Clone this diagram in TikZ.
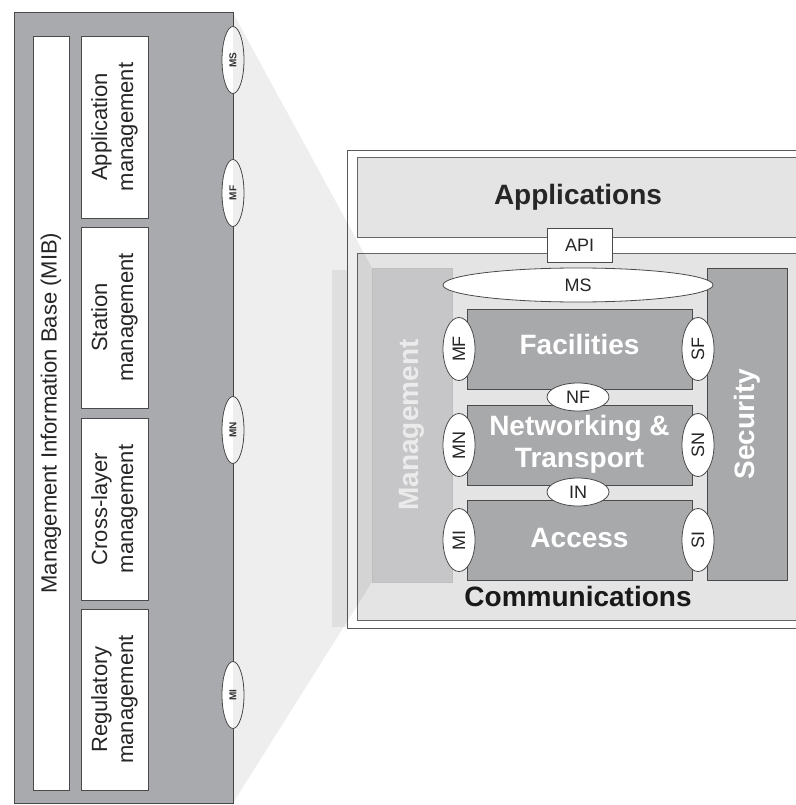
\documentclass[tikz,border=0pt]{standalone}
\usepackage{fontspec}
\setmainfont{Liberation Sans}
\usetikzlibrary{shapes.geometric}
\definecolor{panelgray}{HTML}{A9AAAD}
\definecolor{laygray}{HTML}{A8A9AB}
\definecolor{mgmtgray}{HTML}{C6C6C8}
\definecolor{boxlight}{HTML}{E4E4E4}
\definecolor{edgegray}{HTML}{4A4A4A}
\definecolor{bandgray}{HTML}{EFEFEF}
\begin{document}
\begin{tikzpicture}[x=1pt,y=-1pt,
  rbox/.style={rectangle, inner sep=0pt, outer sep=0pt},
  leftpanel/.style={rbox, draw=edgegray, fill=panelgray, line width=1pt},
  wbox/.style={rbox, draw=edgegray, fill=white, line width=0.8pt},
  lightbox/.style={rbox, draw=black!60, fill=boxlight, line width=0.8pt},
  layerbox/.style={rbox, draw=edgegray, fill=laygray, line width=1pt},
  mgmtbox/.style={rbox, draw=black!25, fill=mgmtgray, line width=0.6pt},
  oval/.style={ellipse, draw=edgegray, fill=white, line width=0.8pt, inner sep=0pt},
  smalltxt/.style={font=\fontsize{10}{11}\selectfont\bfseries, text=black!80},
  midtxt/.style={font=\fontsize{18}{20}\selectfont, text=black!85},
  leftlbl/.style={font=\fontsize{22}{26}\selectfont, text=black!85, align=center, rotate=90},
  bigtxt/.style={font=\fontsize{28}{32}\selectfont\bfseries, align=center},
]
\useasboundingbox (0,0) rectangle (795,805);

% band
\fill[bandgray] (332,270) rectangle (347,627);

% left panel
\node[leftpanel, minimum width=219, minimum height=790] (lp) at (123.5,408) {};
\node[wbox, minimum width=36, minimum height=754] (mib) at (51,413) {};
\node[leftlbl] at (mib.center) {Management Information Base (MIB)};
\node[wbox, minimum width=67, minimum height=182] (appm) at (114.5,127) {};
\node[leftlbl] at (appm.center) {Application\\management};
\node[wbox, minimum width=67, minimum height=181] (stam) at (114.5,317.5) {};
\node[leftlbl] at (stam.center) {Station\\management};
\node[wbox, minimum width=67, minimum height=182] (crm) at (114.5,509) {};
\node[leftlbl] at (crm.center) {Cross-layer\\management};
\node[wbox, minimum width=67, minimum height=181] (regm) at (114.5,699.5) {};
\node[leftlbl] at (regm.center) {Regulatory\\management};

\foreach \nm/\yy/\tx in {lms/60/MS, lmf/193/MF, lmn/430/MN, lmi/695/MI}{
  \node[oval, minimum width=22, minimum height=67] (\nm) at (233,\yy) {};
  \node[smalltxt, rotate=90] at (\nm.center) {\tx};
}

% right panel
\node[rbox, draw=black!65, fill=white, line width=0.8pt, minimum width=463, minimum height=478] (outer) at (578.5,389) {};
\node[lightbox, minimum width=453, minimum height=80] (apps) at (583.5,197) {};
\node[bigtxt, text=black!85] (appst) at (578,197) {Applications};
\node[lightbox, minimum width=453, minimum height=367] (comm) at (583.5,436.5) {};
\node[wbox, minimum width=65, minimum height=34] (api) at (579.5,245) {};
\node[midtxt] at (api.center) {API};

\node[mgmtbox, minimum width=80, minimum height=314] (mgmt) at (412,425) {};
\node[bigtxt, text=black!8, rotate=90] at (mgmt.center) {Management};
\node[layerbox, minimum width=80, minimum height=312] (sec) at (747,424) {};
\node[bigtxt, text=white, rotate=90] at (sec.center) {Security};

\node[oval, minimum width=270, minimum height=34] (ms) at (578,285) {};
\node[midtxt] at (ms.center) {MS};

\node[layerbox, minimum width=225, minimum height=80] (fac) at (579.5,349) {};
\node[bigtxt, text=white] at (579.5,344) {Facilities};
\node[layerbox, minimum width=225, minimum height=80] (net) at (579.5,445) {};
\node[bigtxt, text=white] at (579.5,444) {Networking \&\\Transport};
\node[layerbox, minimum width=225, minimum height=80] (acc) at (579.5,540) {};
\node[bigtxt, text=white] at (579.5,538) {Access};

\node[oval, minimum width=62, minimum height=28] (nf) at (578,397) {};
\node[midtxt] at (nf.center) {NF};
\node[oval, minimum width=62, minimum height=28] (in) at (578,492) {};
\node[midtxt] at (in.center) {IN};

\foreach \nm/\xx/\yy/\tx in {mf/459/349/MF, mn/459/445/MN, mi/459/540/MI, sf/698/349/SF, sn/698/445/SN, si/698/540/SI}{
  \node[oval, minimum width=32, minimum height=63] (\nm) at (\xx,\yy) {};
  \node[midtxt, rotate=90] at (\nm.center) {\tx};
}

\node[bigtxt, text=black!90] (commt) at (578,596) {Communications};

% projection wedge
\fill[black, opacity=0.065] (lp.north east) -- (mgmt.north west) -- (mgmt.south west) -- (lp.south east) -- cycle;
\end{tikzpicture}
\end{document}
